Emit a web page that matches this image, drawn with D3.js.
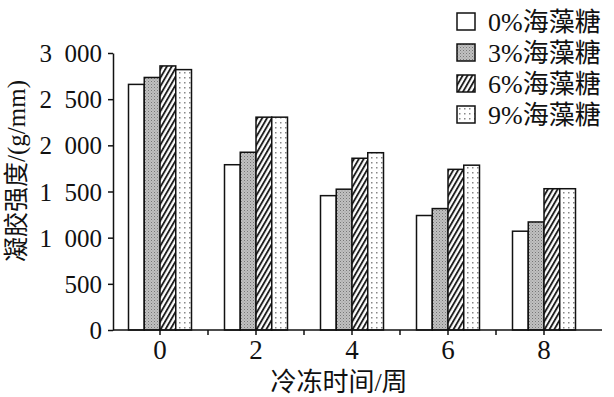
<!DOCTYPE html>
<html>
<head>
<meta charset="utf-8">
<script src="https://cdn.jsdelivr.net/npm/d3@7"></script>
<style>
  body { margin: 0; background: #fff; }
  svg { display: block; }
  text { font-family: "Liberation Serif", "Noto Sans CJK SC", serif; fill: #111; }
</style>
</head>
<body>
<div id="chart"></div>
<script>
// 数据
const weeks = ["0", "2", "4", "6", "8"];
const seriesNames = ["0%海藻糖", "3%海藻糖", "6%海藻糖", "9%海藻糖"];
const s0 = [2660, 1790, 1455, 1240, 1070];
const s3 = [2735, 1925, 1525, 1315, 1170];
const s6 = [2860, 2305, 1860, 1740, 1530];
const s9 = [2820, 2305, 1920, 1785, 1530];
const yTicks = [0, 500, 1000, 1500, 2000, 2500, 3000];
const yTickLabels = ["0", "500", "1\u2002000", "1\u2002500", "2\u2002000", "2\u2002500", "3\u2002000"];
const yTitle = "凝胶强度/(g/mm)";
const xTitle = "冷冻时间/周";

const seriesValues = [s0, s3, s6, s9];

const W = 614, H = 397;
const plot = { left: 113, right: 602, top: 53, bottom: 330 };

const svg = d3.select("#chart")
    .append("svg")
    .attr("width", W)
    .attr("height", H);

// 填充图案
const defs = svg.append("defs");

const gray = defs.append("pattern")
    .attr("id", "p-gray")
    .attr("patternUnits", "userSpaceOnUse")
    .attr("width", 3).attr("height", 3);
gray.append("rect").attr("width", 3).attr("height", 3).attr("fill", "#c0c0c0");
gray.append("rect").attr("width", 1).attr("height", 1).attr("fill", "#777");
gray.append("rect").attr("x", 1.5).attr("y", 1.5).attr("width", 1).attr("height", 1).attr("fill", "#959595");

const hatch = defs.append("pattern")
    .attr("id", "p-hatch")
    .attr("patternUnits", "userSpaceOnUse")
    .attr("width", 4.2).attr("height", 10)
    .attr("patternTransform", "rotate(30)");
hatch.append("rect").attr("width", 4.2).attr("height", 10).attr("fill", "#fff");
hatch.append("line")
    .attr("x1", 1).attr("y1", 0).attr("x2", 1).attr("y2", 10)
    .attr("stroke", "#111").attr("stroke-width", 1.8);

const dots = defs.append("pattern")
    .attr("id", "p-dots")
    .attr("patternUnits", "userSpaceOnUse")
    .attr("width", 5).attr("height", 5);
dots.append("rect").attr("width", 5).attr("height", 5).attr("fill", "#fff");
dots.append("rect").attr("x", 2).attr("y", 2).attr("width", 1.5).attr("height", 1.5).attr("fill", "#888");

const fills = ["#fff", "url(#p-gray)", "url(#p-hatch)", "url(#p-dots)"];

// 比例尺
const xScale = d3.scaleBand()
    .domain(weeks)
    .range([112, 592])
    .padding(0);

const inner = 63;
const x1 = d3.scaleBand()
    .domain(seriesNames)
    .range([(xScale.bandwidth() - inner) / 2, (xScale.bandwidth() + inner) / 2]);

const yScale = d3.scaleLinear()
    .domain([0, 3000])
    .range([plot.bottom, plot.top]);

// 柱子
const groups = svg.append("g")
    .selectAll("g")
    .data(weeks)
    .join("g")
    .attr("transform", d => `translate(${xScale(d)},0)`);

groups.selectAll("rect")
    .data((d, i) => seriesNames.map((name, j) => ({ name, j, value: seriesValues[j][i] })))
    .join("rect")
    .attr("x", d => x1(d.name))
    .attr("y", d => yScale(d.value))
    .attr("width", x1.bandwidth())
    .attr("height", d => yScale(0) - yScale(d.value))
    .attr("fill", d => fills[d.j])
    .attr("stroke", "#111")
    .attr("stroke-width", 1.5);

// Y 轴
const yAxis = d3.axisLeft(yScale)
    .tickValues(yTicks)
    .tickSize(5)
    .tickSizeOuter(0)
    .tickPadding(6)
    .tickFormat((d, i) => yTickLabels[i]);

const gy = svg.append("g")
    .attr("transform", `translate(${plot.left},0)`)
    .call(yAxis);
gy.selectAll("text").style("font-size", "25px").attr("dy", "0.34em");
gy.selectAll("line, path").attr("stroke", "#111").attr("stroke-width", 1.5);

// X 轴
const xAxis = d3.axisBottom(xScale)
    .tickSize(5)
    .tickSizeOuter(0)
    .tickPadding(5);

const gx = svg.append("g")
    .attr("transform", `translate(0,${plot.bottom})`)
    .call(xAxis);
gx.select(".domain").remove();
gx.selectAll("text").style("font-size", "27px").attr("dy", "0.72em");
gx.selectAll("line").attr("stroke", "#111").attr("stroke-width", 1.5);

// 次刻度（组间）
gx.selectAll(".minor")
    .data(weeks.slice(1))
    .join("line")
    .attr("class", "minor")
    .attr("x1", d => xScale(d)).attr("x2", d => xScale(d))
    .attr("y1", 0).attr("y2", 5)
    .attr("stroke", "#111").attr("stroke-width", 1.5);

gx.append("line")
    .attr("x1", plot.left).attr("x2", plot.right)
    .attr("y1", 0).attr("y2", 0)
    .attr("stroke", "#111").attr("stroke-width", 1.5);

// 轴标题
svg.append("text")
    .attr("transform", "translate(16,171) rotate(-90)")
    .attr("text-anchor", "middle")
    .attr("dy", "0.35em")
    .style("font-size", "25px")
    .text(yTitle);

svg.append("text")
    .attr("x", 339)
    .attr("y", 391)
    .attr("text-anchor", "middle")
    .style("font-size", "26px")
    .text(xTitle);

// 图例
const legend = svg.append("g")
    .selectAll("g")
    .data(seriesNames)
    .join("g")
    .attr("transform", (d, i) => `translate(457,${13 + i * 31})`);

legend.append("rect")
    .attr("width", 18)
    .attr("height", 17)
    .attr("fill", (d, i) => fills[i])
    .attr("stroke", "#111")
    .attr("stroke-width", 1.5);

legend.append("text")
    .attr("x", 31)
    .attr("y", 8.5)
    .attr("dy", "0.35em")
    .style("font-size", "26px")
    .text(d => d);
</script>
</body>
</html>
